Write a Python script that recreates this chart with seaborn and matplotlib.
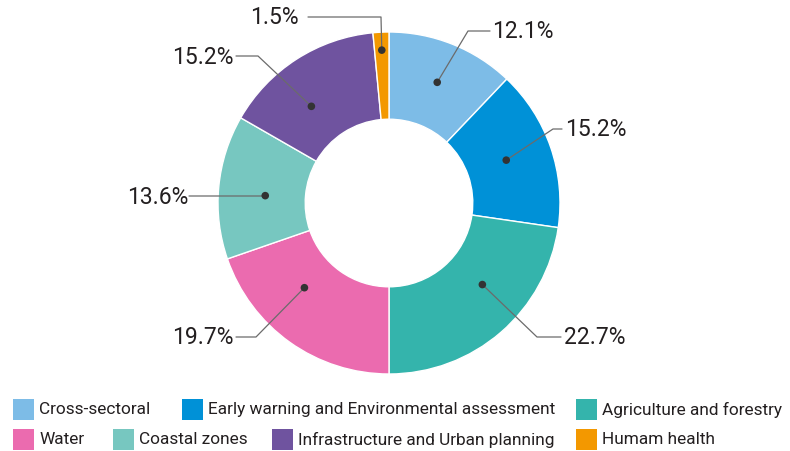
import numpy as np
import matplotlib.pyplot as plt
import seaborn as sns
from matplotlib.patches import Rectangle

sns.set_theme(style="white")
plt.rcParams['font.family'] = ['Roboto', 'DejaVu Sans']

# data
sectors = ['Cross-sectoral', 'Early warning and Environmental assessment', 'Agriculture and forestry',
           'Water', 'Coastal zones', 'Infrastructure and Urban planning', 'Humam health']
shares = [12.1, 15.2, 22.7, 19.7, 13.6, 15.2, 1.5]
colors = ['#7DBCE7', '#0091D7', '#34B4AC', '#EB6BAF', '#77C7C0', '#6F539F', '#F39800']

# layout (pixels in a 790x452 canvas)
W, H = 790, 452
cx, cy, R = 389, 204, 171
dot_r = [0.76, 0.73, 0.725, 0.70, 0.725, 0.725, 0.895]
dot_shift = [0, -1, -8, 9.5, -2, -6, 0]  # small clockwise nudges, degrees
elbow_px = [(468, 32), (553, 130), (537, 338), (256, 338), (265, 197), (258, 57), (381, 18)]
line_end_px = [(490, 32), (562, 130), (561, 338), (236, 338), (189, 197), (236, 57), (308, 18)]
text_px = [(492, 32, 'left'), (565, 129, 'left'), (564, 338, 'left'), (234, 338, 'right'),
           (188, 197, 'right'), (234, 57, 'right'), (299, 18, 'right')]
legend_px = [(13, 410), (182, 410), (576, 410), (13, 440), (113, 440), (272, 440), (576, 440)]


def to_data(x, y):
    return (x - cx) / R, (cy - y) / R


fig = plt.figure(figsize=(W / 100, H / 100), dpi=100)
ax = fig.add_axes([0, 0, 1, 1])

ax.pie(shares, colors=colors, startangle=90, counterclock=False, radius=1,
       wedgeprops=dict(width=0.51, edgecolor='white', linewidth=1))
ax.set_aspect('auto')
ax.axis('off')

# dot positions from the slice mid-angles
cum = np.cumsum([0] + shares[:-1])
mid_cw = (cum + np.array(shares) / 2) / sum(shares) * 360 + np.array(dot_shift)
theta = np.radians(90 - mid_cw)
dot_x = np.array(dot_r) * np.cos(theta)
dot_y = np.array(dot_r) * np.sin(theta)

for i, v in enumerate(shares):
    ex, ey = to_data(*elbow_px[i])
    lx, ly = to_data(*line_end_px[i])
    ax.plot([dot_x[i], ex, lx], [dot_y[i], ey, ly], color='#6b6b6b', lw=0.9, zorder=4)
    tx, ty, ha = text_px[i]
    tx, ty = to_data(tx, ty)
    ax.text(tx, ty, f'{v}%', ha=ha, va='center', fontsize=16.5, color='#231f20')

sns.scatterplot(x=dot_x, y=dot_y, ax=ax, color='#333333', s=30, edgecolor='none', zorder=5, legend=False)
ax.set_xlim(-cx / R, (W - cx) / R)
ax.set_ylim(-(H - cy) / R, cy / R)

# legend
for i, name in enumerate(sectors):
    px, py = legend_px[i]
    fig.add_artist(Rectangle((px / W, 1 - (py + 10.5) / H), 21 / W, 21 / H,
                             transform=fig.transFigure, color=colors[i], lw=0))
    fig.text((px + 26) / W, 1 - py / H, name, va='center', ha='left', fontsize=12.4,
             color='#231f20')

fig.savefig('out.png', dpi=100)
